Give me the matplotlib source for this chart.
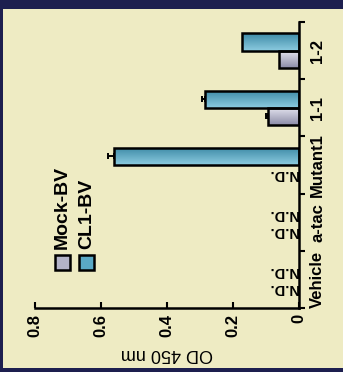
import numpy as np
import matplotlib
matplotlib.use('Agg')
import matplotlib.pyplot as plt
from matplotlib.patches import Rectangle
from matplotlib.colors import LinearSegmentedColormap

plt.rcParams['font.family'] = ['Liberation Sans', 'DejaVu Sans']
plt.rcParams['font.weight'] = 'bold'

# data (N.D. = not detected -> nan)
categories = ['Vehicle', 'a-tac', 'Mutant1', '1-1', '1-2']
mock_bv = [np.nan, np.nan, np.nan, 0.094, 0.060]
mock_err = [0, 0, 0, 0.006, 0]
cl1_bv = [np.nan, np.nan, 0.562, 0.284, 0.172]
cl1_err = [0, 0, 0.018, 0.010, 0]
series_names = ['Mock-BV', 'CL1-BV']
value_ticks = [0, 0.2, 0.4, 0.6, 0.8]
value_labels = ['0', '0.2', '0.4', '0.6', '0.8']

mock_cols = ('#e6e6f0', '#8c8ca8')   # top, bottom of the bar
cl1_cols = ('#3d8aa6', '#8ccbe0')
legend_cols = ['#b4b4c8', '#5aa9c6']


def grad_fill(ax, rect, c_top, c_bot):
    # fill a bar with a gradient across its thickness
    x0, y0 = rect.get_x(), rect.get_y()
    w, h = rect.get_width(), rect.get_height()
    cmap = LinearSegmentedColormap.from_list('g', [c_bot, c_top])
    im = ax.imshow(np.linspace(0, 1, 64).reshape(-1, 1), cmap=cmap,
                   extent=[x0, x0 + w, y0, y0 + h], origin='lower',
                   aspect='auto', zorder=1.9)
    im.set_clip_path(rect)


fig = plt.figure(figsize=(3.43, 3.72), dpi=100)
fig.patch.set_facecolor('#1d1f4f')
fig.add_artist(Rectangle((0.009, 0.011), 0.991, 0.965, transform=fig.transFigure,
                         facecolor='#eeebc3', edgecolor='none', zorder=-1))

ax = fig.add_axes([0.102, 0.172, 0.770, 0.769])
ax.set_facecolor('none')

pos = np.arange(len(categories))
h = 0.3
for vals, errs, off, cols in [(mock_bv, mock_err, -h / 2, mock_cols),
                              (cl1_bv, cl1_err, h / 2, cl1_cols)]:
    for p, v, e in zip(pos, vals, errs):
        if np.isnan(v):
            ax.text(0.002, p + off, 'N.D.', rotation=180, rotation_mode='anchor',
                    ha='left', va='center', fontsize=10.5)
            continue
        bar = ax.barh(p + off, v, height=h, facecolor='none', edgecolor='black',
                      linewidth=1.8, zorder=2)[0]
        grad_fill(ax, bar, *cols)
        if e > 0:
            ax.errorbar(v, p + off, xerr=[[0], [e]], fmt='none', ecolor='black',
                        elinewidth=1.4, capsize=2.5, capthick=1.4, zorder=3)

ax.set_xlim(0.8, 0)
ax.set_ylim(-0.5, len(categories) - 0.5)

for s in ['top', 'left']:
    ax.spines[s].set_visible(False)
for s in ['bottom', 'right']:
    ax.spines[s].set_linewidth(1.8)

ax.set_xticks(value_ticks)
ax.set_xticklabels(value_labels, rotation=90, fontsize=12)
ax.tick_params(axis='x', direction='in', length=4, width=1.5, pad=4)

ax.yaxis.tick_right()
ax.set_yticks(pos)
ax.set_yticklabels(categories, rotation=90, fontsize=12, va='center')
ax.set_yticks(np.arange(len(categories) + 1) - 0.5, minor=True)
ax.tick_params(axis='y', which='major', length=0, pad=8)
ax.tick_params(axis='y', which='minor', direction='out', length=4, width=1.5)

ax.set_xlabel('OD 450 nm', rotation=180, fontsize=13, labelpad=6)

# legend, drawn by hand so the text can be turned like the rest
for i, (name, col) in enumerate(zip(series_names, legend_cols)):
    x0 = 0.160 + i * 0.070
    fig.add_artist(Rectangle((x0, 0.274), 0.044, 0.040, transform=fig.transFigure,
                             facecolor=col, edgecolor='black', linewidth=1.8))
    fig.text(x0 + 0.022, 0.330, name, rotation=90, ha='center', va='bottom',
             fontsize=14)

fig.savefig('out.png', dpi=100, facecolor=fig.get_facecolor())
